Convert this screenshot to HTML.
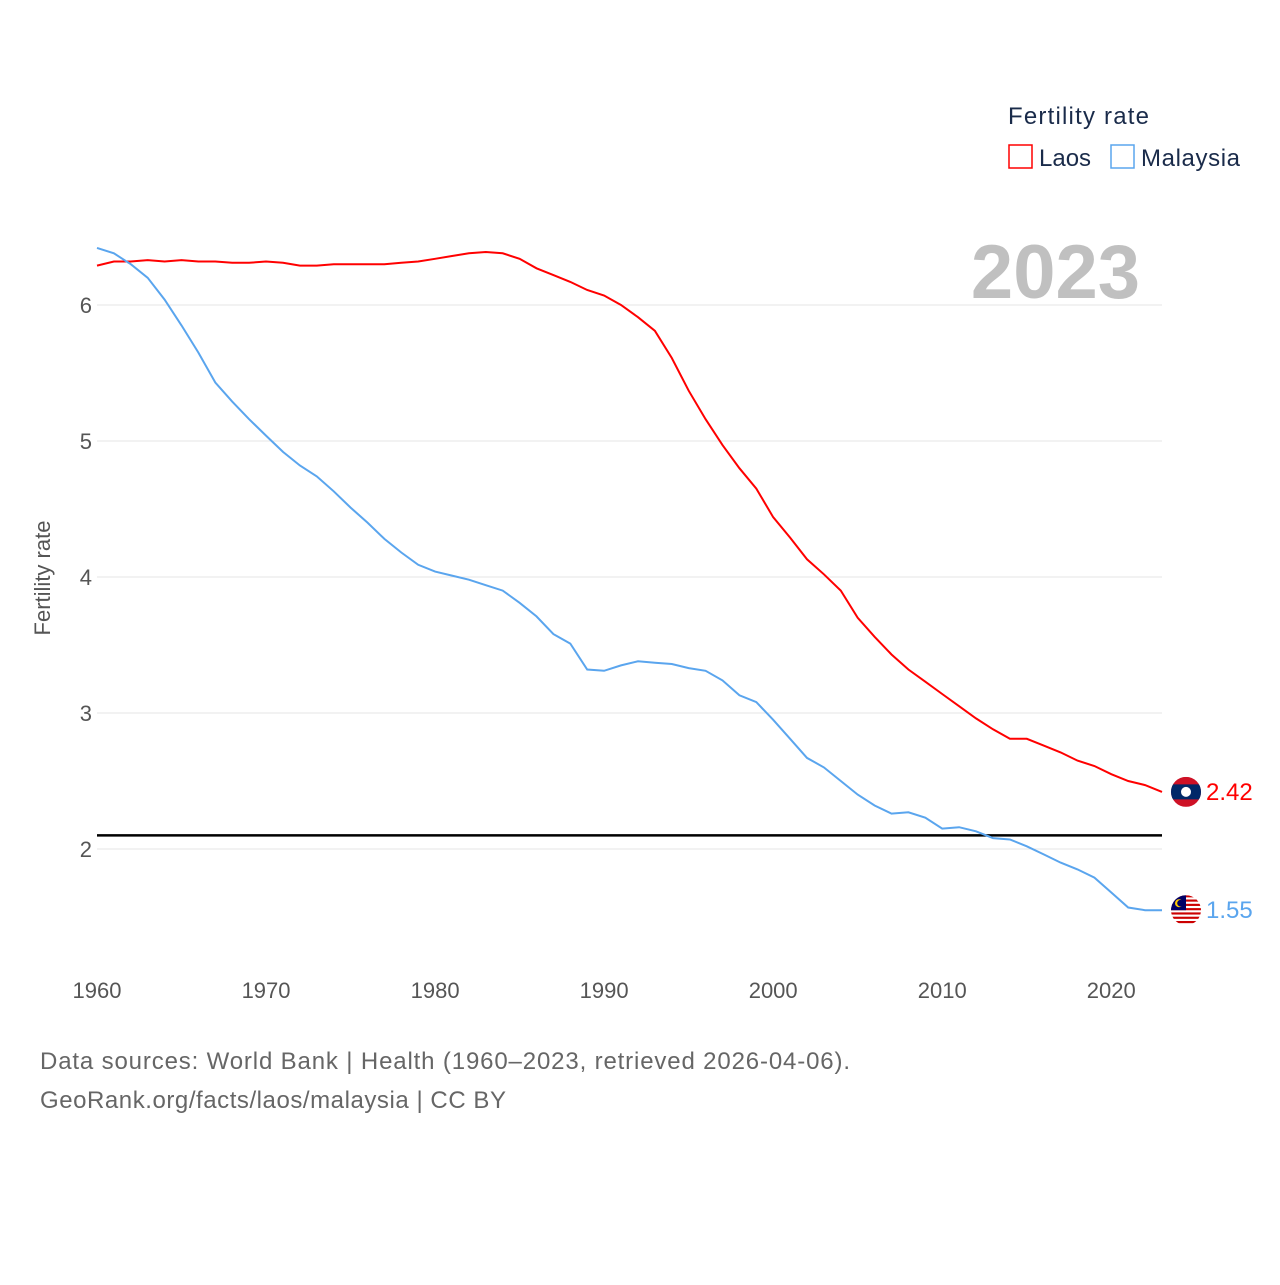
<!DOCTYPE html>
<html><head><meta charset="utf-8"><style>
body{margin:0;background:#fff;font-family:"Liberation Sans",sans-serif}
</style></head><body>
<svg id="chart" width="1280" height="1280" xmlns="http://www.w3.org/2000/svg" font-family="Liberation Sans, sans-serif">
<g id="grid"></g>
<g id="axes"></g>
<text x="1140" y="298" font-size="76" font-weight="bold" fill="#c0c0c0" text-anchor="end">2023</text>
<text transform="translate(50,578) rotate(-90)" font-size="22" fill="#555" text-anchor="middle">Fertility rate</text>
<g id="series"></g>
<g>
<text x="1008" y="124" font-size="24" fill="#1a2b4a" textLength="141">Fertility rate</text>
<g><rect x="1009" y="145" width="23" height="23" fill="none" stroke="#f00" stroke-width="1.5"/><text x="1039" y="166" font-size="24" fill="#1a2b4a">Laos</text></g>
<g><rect x="1111" y="145" width="23" height="23" fill="none" stroke="#5aa5ee" stroke-width="1.5"/><text x="1141" y="166" font-size="24" fill="#1a2b4a" textLength="99">Malaysia</text></g>
</g>
<text x="40" y="1069" font-size="24" fill="#666" textLength="810">Data sources: World Bank | Health (1960–2023, retrieved 2026-04-06).</text>
<text x="40" y="1108" font-size="24" fill="#666" textLength="466">GeoRank.org/facts/laos/malaysia | CC BY</text>
</svg>
<script>
const years=[];for(let y=1960;y<=2023;y++)years.push(y);
const laos=[6.29,6.32,6.32,6.33,6.32,6.33,6.32,6.32,6.31,6.31,6.32,6.31,6.29,6.29,6.30,6.30,6.30,6.30,6.31,6.32,6.34,6.36,6.38,6.39,6.38,6.34,6.27,6.22,6.17,6.11,6.07,6.00,5.91,5.81,5.61,5.37,5.16,4.97,4.80,4.65,4.44,4.29,4.13,4.02,3.90,3.70,3.56,3.43,3.32,3.23,3.14,3.05,2.96,2.88,2.81,2.81,2.76,2.71,2.65,2.61,2.55,2.50,2.47,2.42];
const malaysia=[6.42,6.38,6.30,6.20,6.04,5.85,5.65,5.43,5.29,5.16,5.04,4.92,4.82,4.74,4.63,4.51,4.40,4.28,4.18,4.09,4.04,4.01,3.98,3.94,3.90,3.81,3.71,3.58,3.51,3.32,3.31,3.35,3.38,3.37,3.36,3.33,3.31,3.24,3.13,3.08,2.95,2.81,2.67,2.60,2.50,2.40,2.32,2.26,2.27,2.23,2.15,2.16,2.13,2.08,2.07,2.02,1.96,1.90,1.85,1.79,1.68,1.57,1.55,1.55];
const yTicks=[2,3,4,5,6];
const xTicks=[1960,1970,1980,1990,2000,2010,2020];
const replacement=2.1;
const X=y=>97+(y-1960)*(1162-97)/63;
const Y=v=>849-(v-2)*136;
const NS="http://www.w3.org/2000/svg";
function mk(t,a,p){const e=document.createElementNS(NS,t);for(const k in a)e.setAttribute(k,a[k]);p.appendChild(e);return e;}
const grid=document.getElementById('grid'),axes=document.getElementById('axes'),ser=document.getElementById('series');
yTicks.forEach(v=>{
const l=mk('line',{x1:97,x2:1162,y1:Y(v),y2:Y(v),stroke:'#e6e6e6','stroke-width':1},grid);


const t=mk('text',{x:92,y:Y(v)+8,'font-size':22,fill:'#555','text-anchor':'end'},axes);t.textContent=v;


});
xTicks.forEach(v=>{
const t=mk('text',{x:X(v),y:998,'font-size':22,fill:'#555','text-anchor':'middle'},axes);t.textContent=v;


});
const rl=mk('line',{x1:97,x2:1162,y1:Y(replacement),y2:Y(replacement),stroke:'#000','stroke-width':2.5},axes);


function draw(vals,color,name){
const p=mk('path',{d:vals.map((v,i)=>(i?'L':'M')+X(years[i]).toFixed(1)+','+Y(v).toFixed(1)).join(''),fill:'none',stroke:color,'stroke-width':2},ser);


const last=vals[vals.length-1],ly=Y(last);
const t=mk('text',{x:1206,y:ly+8,'font-size':24,fill:color},ser);t.textContent=last.toFixed(2);


return ly;
}
const ly1=draw(laos,'#f00','laos');
const ly2=draw(malaysia,'#5aa5ee','malaysia');
// Laos flag
let g=mk('g',{},ser);


const lc=mk('clipPath',{id:'lc'},g);mk('circle',{cx:1186,cy:ly1,r:15},lc);
const lg=mk('g',{'clip-path':'url(#lc)'},g);
mk('rect',{x:1171,y:ly1-15,width:30,height:30,fill:'#ce1126'},lg);
mk('rect',{x:1171,y:ly1-7.5,width:30,height:15,fill:'#002868'},lg);
mk('circle',{cx:1186,cy:ly1,r:5,fill:'#fff'},lg);
// Malaysia flag
g=mk('g',{},ser);


const cp=mk('clipPath',{id:'mc'},g);mk('circle',{cx:1186,cy:ly2,r:15},cp);
const gg=mk('g',{'clip-path':'url(#mc)'},g);
mk('rect',{x:1171,y:ly2-15,width:30,height:30,fill:'#fff'},gg);
for(let i=0;i<7;i++)mk('rect',{x:1171,y:ly2-15+i*4.3,width:30,height:2.15,fill:'#cc0001'},gg);
mk('rect',{x:1171,y:ly2-15,width:15,height:15,fill:'#010066'},gg);
mk('circle',{cx:1179,cy:ly2-7,r:4,fill:'#fc0'},gg);
mk('circle',{cx:1180.5,cy:ly2-7,r:3.3,fill:'#010066'},gg);
</script>
</body></html>
